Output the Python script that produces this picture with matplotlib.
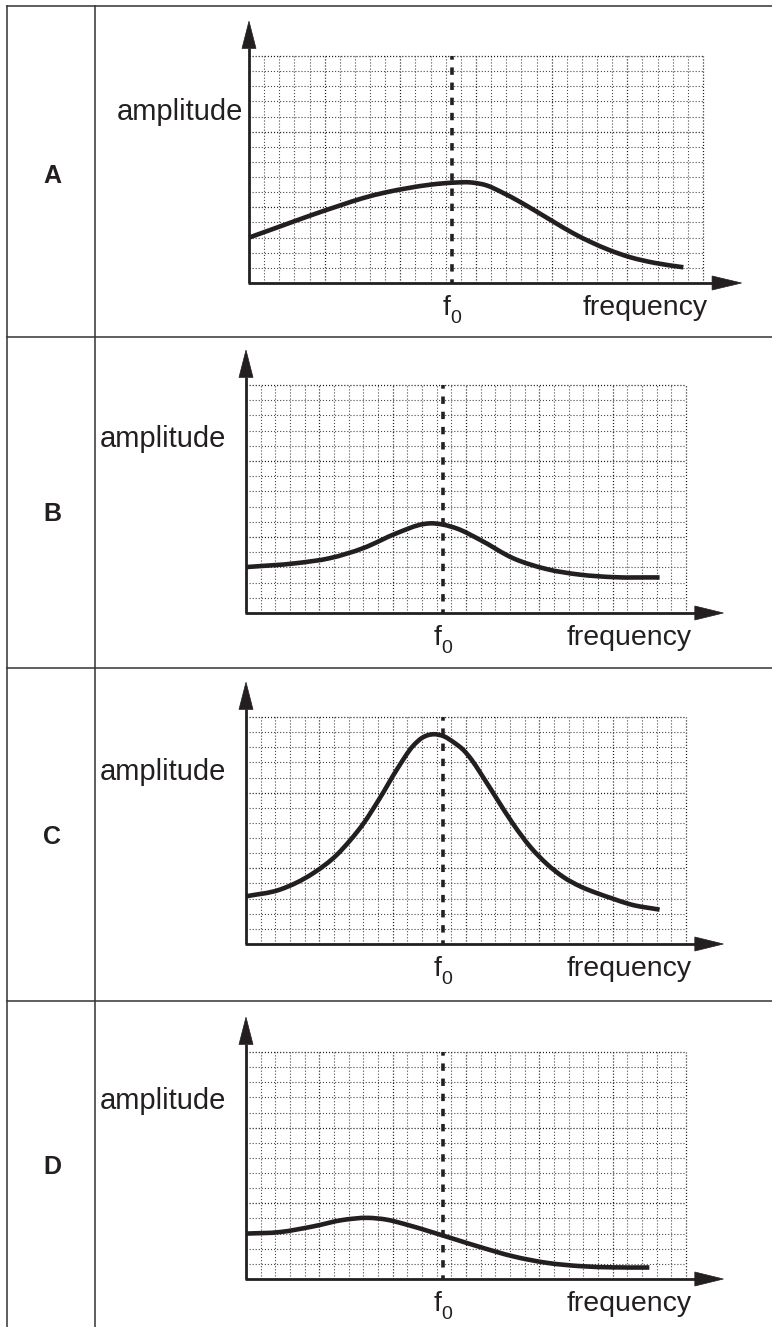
import numpy as np
import matplotlib
matplotlib.use("Agg")
import matplotlib.pyplot as plt
from matplotlib.path import Path
from matplotlib.patches import PathPatch, Polygon
from matplotlib.lines import Line2D

plt.rcParams['font.family'] = ['Liberation Sans', 'DejaVu Sans']

# ---------------- data (grid units: x 0..30, y 0..15) ----------------
panel_labels = ['A', 'B', 'C', 'D']
y_label = 'amplitude'
x_label = 'frequency'
f0_main, f0_sub = 'f', '0'
f0_pos = [13.4, 13.4, 13.4, 13.4]

curve_A_x = [0, 2, 4, 6, 7.5, 9, 10.5, 12, 13.5, 14.7, 15.7, 16.7, 17.8, 19, 20.2, 21.4,
             22.6, 23.8, 25.2, 26.8, 28.7]
curve_A_y = [3.0, 3.72, 4.44, 5.12, 5.6, 5.98, 6.27, 6.5, 6.63, 6.64, 6.45, 6.0, 5.42, 4.72,
             4.0, 3.3, 2.7, 2.18, 1.7, 1.33, 1.04]

curve_B_x = [0, 3.45, 5.73, 8, 10.3, 12.1, 12.6, 13.4, 14.4, 15.95, 18.2, 20.5, 22.8, 25, 28.2]
curve_B_y = [3.02, 3.28, 3.61, 4.27, 5.26, 5.85, 5.9, 5.82, 5.55, 4.82, 3.61, 2.89, 2.52, 2.36, 2.34]

curve_C_x = [0, 2.3, 4.6, 6.2, 7.1, 8, 9.1, 10.3, 11.4, 12.0, 12.8, 13.5, 14.2, 14.8, 15.4,
             15.95, 17.1, 18.2, 19.4, 20.5, 21.6, 22.8, 23.9, 25, 26.2, 28.2]
curve_C_y = [3.15, 3.59, 4.69, 5.9, 6.85, 7.95, 9.6, 11.55, 13.1, 13.62, 13.86, 13.72, 13.3,
             12.84, 12.15, 11.35, 9.6, 7.95, 6.4, 5.3, 4.45, 3.8, 3.37, 3.0, 2.62, 2.27]

curve_D_x = [0, 2.3, 4.6, 6.6, 8.3, 9.6, 11, 12.5, 14, 16, 18.2, 20.5, 22.8, 25, 27.5]
curve_D_y = [3.0, 3.1, 3.48, 3.9, 4.04, 3.92, 3.58, 3.15, 2.7, 2.1, 1.5, 1.07, 0.85, 0.77, 0.76]

curves = [(curve_A_x, curve_A_y), (curve_B_x, curve_B_y),
          (curve_C_x, curve_C_y), (curve_D_x, curve_D_y)]

# ---------------- layout (pixels) ----------------
W, H, DPI = 772, 1327, 100
grids = [(249, 703, 56, 283), (246, 686, 385, 613), (246, 686, 717, 944), (246, 686, 1052, 1279)]
letter_pos = [(52, 183), (52, 521), (52, 844), (52, 1174)]
amp_pos = [(243, 120, 'right'), (100, 447, 'left'), (100, 780, 'left'), (100, 1109, 'left')]
freq_right = [708, 692, 692, 692]
row_lines = [6, 337, 668, 1001]

INK = '#231f20'
fig = plt.figure(figsize=(W / DPI, H / DPI), dpi=DPI)
fig.patch.set_facecolor('white')


def fx(px):
    return px / W


def fy(py):
    return 1 - py / H


for y in row_lines:
    fig.add_artist(Line2D([fx(7), 1], [fy(y), fy(y)], color='#333333', lw=1.1))
for x in (7, 94.5):
    fig.add_artist(Line2D([fx(x), fx(x)], [fy(6), 0], color='#333333', lw=1.1))


def smooth_path(xs, ys):
    """Cubic Hermite (non-uniform three-point tangents) rendered as Bezier segments."""
    x = np.asarray(xs, float)
    y = np.asarray(ys, float)
    n = len(x)
    h = np.diff(x)
    d = np.diff(y) / h
    m = np.zeros(n)
    m[0] = d[0]
    m[-1] = d[-1]
    for i in range(1, n - 1):
        m[i] = (d[i - 1] * h[i] + d[i] * h[i - 1]) / (h[i - 1] + h[i])
    verts = [(x[0], y[0])]
    codes = [Path.MOVETO]
    for i in range(n - 1):
        hh = h[i] / 3.0
        verts += [(x[i] + hh, y[i] + m[i] * hh), (x[i + 1] - hh, y[i + 1] - m[i + 1] * hh),
                  (x[i + 1], y[i + 1])]
        codes += [Path.CURVE4] * 3
    return Path(verts, codes)


for i, (gl, gr, gt, gb) in enumerate(grids):
    ax = fig.add_axes([fx(gl), fy(gb), (gr - gl) / W, (gb - gt) / H])
    ax.set_xlim(0, 30)
    ax.set_ylim(0, 15)
    ax.axis('off')
    ux = (gr - gl) / 30.0
    uy = (gb - gt) / 15.0

    glw_minor, glw_major = 0.8, 0.9
    for k in range(1, 31):
        major = (k % 5 == 0)
        lw = glw_major if major else glw_minor
        ax.plot([k, k], [0, 15], color='#1a1a1a' if major else '#4a4a4a',
                lw=lw, linestyle=(0, (0.8 / lw, 1.4 / lw)), clip_on=False, zorder=1)
    for k in range(1, 16):
        major = (k % 5 == 0)
        lw = glw_major if major else glw_minor
        ax.plot([0, 30], [k, k], color='#1a1a1a' if major else '#4a4a4a',
                lw=lw, linestyle=(0, (0.8 / lw, 1.4 / lw)), clip_on=False, zorder=1)

    dlw = 2.6
    on = 7.4 * 0.72
    off = uy * 0.72 - on
    ax.plot([f0_pos[i], f0_pos[i]], [15, 0], color=INK, lw=dlw,
            linestyle=(on / 2 / dlw, (on / dlw, off / dlw)), clip_on=False, zorder=3,
            dash_capstyle='butt')

    ax.plot([0, 0], [0, 15.55], color=INK, lw=2.0, clip_on=False, zorder=4,
            solid_capstyle='butt')
    ax.plot([-1.0 / ux, 30.65], [0, 0], color=INK, lw=2.0, clip_on=False, zorder=4,
            solid_capstyle='butt')
    hw_x = 7.0 / ux
    ax.add_patch(Polygon([[-hw_x, 15.5], [hw_x, 15.5], [0, 17.3]], closed=True,
                         facecolor=INK, edgecolor=INK, lw=0.5, clip_on=False, zorder=5))
    hw_y = 7.0 / uy
    ax.add_patch(Polygon([[30.6, -hw_y], [30.6, hw_y], [32.55, 0]], closed=True,
                         facecolor=INK, edgecolor=INK, lw=0.5, clip_on=False, zorder=5))

    cx, cy = curves[i]
    ax.add_patch(PathPatch(smooth_path(cx, cy), facecolor='none', edgecolor=INK,
                           lw=3.3, capstyle='butt', joinstyle='round', clip_on=False, zorder=6))

    base = gb + 32
    f0px = gl + f0_pos[i] * ux
    fig.text(fx(f0px - 1), fy(base), f0_main, ha='right', va='baseline',
             fontsize=20.5, color=INK)
    fig.text(fx(f0px - 1.5), fy(base + 8), f0_sub, ha='left', va='baseline',
             fontsize=14, color=INK)
    fig.text(fx(freq_right[i]), fy(base), x_label, ha='right', va='baseline',
             fontsize=20.5, color=INK)
    axp = amp_pos[i]
    fig.text(fx(axp[0]), fy(axp[1]), y_label, ha=axp[2], va='baseline',
             fontsize=21, color=INK)
    lp = letter_pos[i]
    fig.text(fx(lp[0]), fy(lp[1]), panel_labels[i], ha='center', va='baseline',
             fontsize=18, fontweight='bold', color=INK)

fig.savefig('out.png', dpi=DPI, facecolor='white')
